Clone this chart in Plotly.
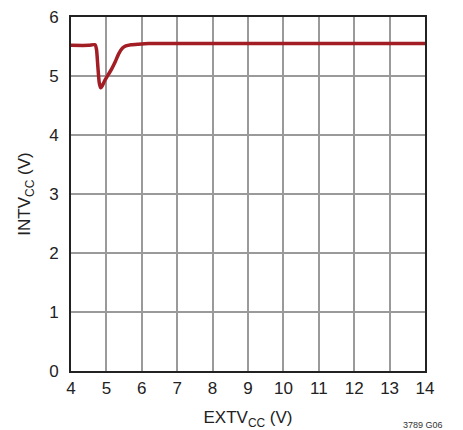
import plotly.graph_objects as go

extv = [4.0, 4.5, 4.68, 4.72, 4.76, 4.80, 4.84, 4.88, 4.95, 5.05, 5.15, 5.25, 5.35, 5.45, 5.55, 5.7, 5.9, 6.2, 7.0, 8.0, 10.0, 14.0]
intv = [5.52, 5.52, 5.53, 5.45, 5.15, 4.88, 4.80, 4.83, 4.92, 5.02, 5.12, 5.24, 5.38, 5.47, 5.51, 5.53, 5.54, 5.55, 5.55, 5.55, 5.55, 5.55]

x_ticks = [4, 5, 6, 7, 8, 9, 10, 11, 12, 13, 14]
y_ticks = [0, 1, 2, 3, 4, 5, 6]

FONT = "Liberation Sans"

fig = go.Figure()
fig.add_trace(go.Scatter(x=extv, y=intv, mode="lines",
                         line=dict(color="#a31d24", width=3.5, shape="spline", smoothing=0.6),
                         showlegend=False, hoverinfo="skip"))

axis_common = dict(showgrid=True, gridcolor="#9a9a9a", gridwidth=1.5,
                   showline=True, linecolor="#222222", linewidth=2, mirror=True,
                   zeroline=False, ticks="", automargin=False, ticklabeloverflow="allow",
                   tickfont=dict(family=FONT, size=17, color="#222"))

fig.update_xaxes(range=[4, 14], tickvals=x_ticks, ticktext=[str(v) for v in x_ticks],
                 ticklabelstandoff=1,
                 title=dict(text="EXTV<sub>CC</sub> (V)", font=dict(family=FONT, size=17, color="#222"), standoff=14),
                 **axis_common)
fig.update_yaxes(range=[0, 6], tickvals=y_ticks, ticktext=[str(v) for v in y_ticks],
                 ticklabelstandoff=7,
                 title=dict(text="INTV<sub>CC</sub> (V)", font=dict(family=FONT, size=17, color="#222"), standoff=14),
                 **axis_common)

fig.add_annotation(text="3789 G06", xref="paper", yref="paper", x=1.056, y=-0.153,
                   xanchor="right", yanchor="middle", showarrow=False,
                   font=dict(family=FONT, size=9, color="#333"))

# page body has an 8px margin, so the figure is shrunk and margins shifted accordingly
fig.update_layout(width=455, height=422, margin=dict(l=63, r=38, t=9, b=59, autoexpand=False),
                  paper_bgcolor="white", plot_bgcolor="white")

fig.write_html("out.html")
